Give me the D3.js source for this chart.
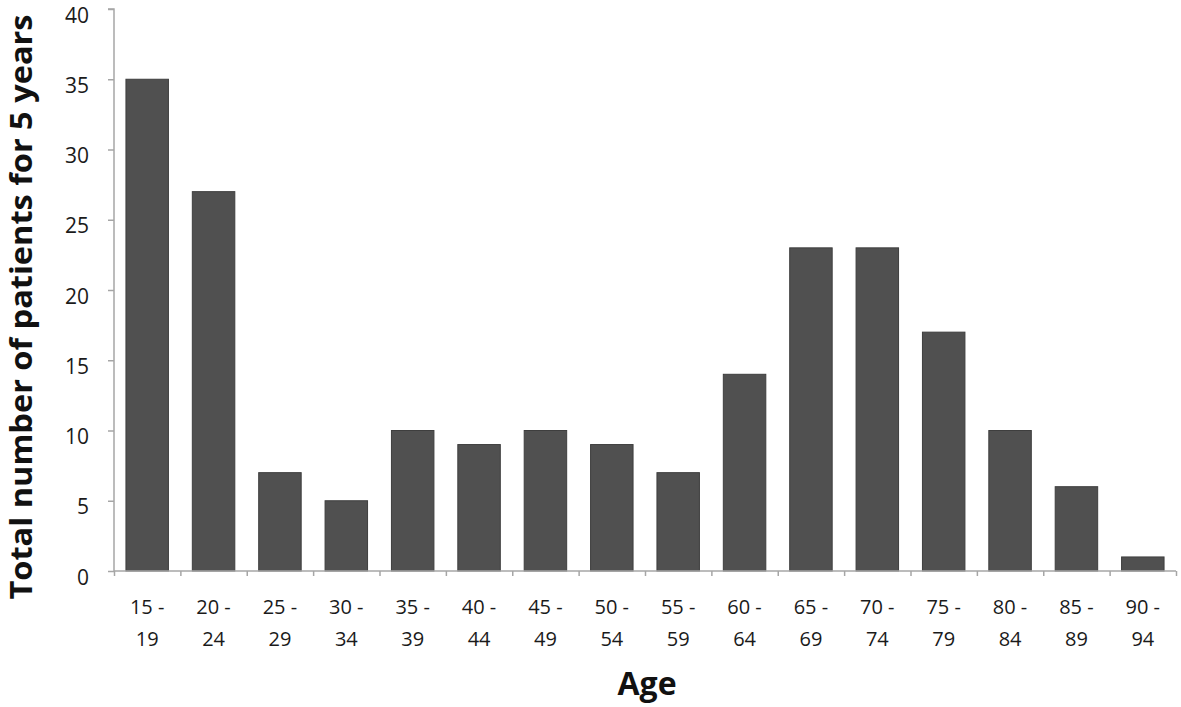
<!DOCTYPE html>
<html>
<head>
<meta charset="utf-8">
<script src="https://cdn.jsdelivr.net/npm/d3@7"></script>
<style>
  body { margin: 0; background: #fff; }
  text { font-family: "Open Sans", "Noto Sans", sans-serif; }
</style>
</head>
<body>
<div class="graph-goes-here"></div>
<script>
// age groups, split on two lines like the original
var ageStart = ["15", "20", "25", "30", "35", "40", "45", "50", "55", "60", "65", "70", "75", "80", "85", "90"];
var ageEnd = ["19", "24", "29", "34", "39", "44", "49", "54", "59", "64", "69", "74", "79", "84", "89", "94"];
var patients = [35, 27, 7, 5, 10, 9, 10, 9, 7, 14, 23, 23, 17, 10, 6, 1];
var yTicks = [0, 5, 10, 15, 20, 25, 30, 35, 40];

var margin = { top: 9, right: 5, bottom: 136, left: 114 },
    width = 1181 - margin.left - margin.right,
    height = 707 - margin.top - margin.bottom;

var svg = d3.select(".graph-goes-here")
    .append("svg")
    .attr("width", 1181)
    .attr("height", 707)
    .append("g")
    .attr("transform", "translate(" + margin.left + "," + margin.top + ")");

var data = ageStart.map((s, i) => ({ key: s + "-" + ageEnd[i], start: s, end: ageEnd[i], value: patients[i] }));

var x = d3.scaleBand().domain(data.map(d => d.key)).range([0, width]).paddingInner(0.36).paddingOuter(0.18);
var xEdges = d3.scaleLinear().domain([0, data.length]).range([0, width]);
var y = d3.scaleLinear().domain([0, 40]).range([height, 0]);

// bars
svg.selectAll(".bar")
    .data(data)
    .enter()
    .append("rect")
    .attr("class", "bar")
    .attr("x", d => x(d.key))
    .attr("width", x.bandwidth())
    .attr("y", d => y(d.value))
    .attr("height", d => height - y(d.value))
    .attr("fill", "#505050")
    .attr("stroke", "#3e3e3e")
    .attr("stroke-width", 1);

// y axis
var yAxis = svg.append("g")
    .call(d3.axisLeft(y).tickValues(yTicks).tickSize(6).tickPadding(19));
yAxis.select(".domain").attr("stroke", "#a6a6a6").attr("stroke-width", 1.5)
    .attr("d", "M-6," + y(40) + "H0V" + height);
yAxis.selectAll(".tick line").attr("stroke", "#a6a6a6").attr("stroke-width", 1.5);
yAxis.selectAll(".tick text").attr("fill", "#1a1a1a").attr("dy", "0.62em").style("font-size", "21px");

// x axis: ticks sit on the category edges
var xAxis = svg.append("g")
    .attr("transform", "translate(0," + height + ")")
    .call(d3.axisBottom(xEdges).tickValues(d3.range(0, data.length + 1)).tickSize(5).tickFormat(""));
xAxis.select(".domain").attr("stroke", "#a6a6a6").attr("stroke-width", 1.5).attr("d", "M0,0H" + width);
xAxis.selectAll(".tick line").attr("stroke", "#a6a6a6").attr("stroke-width", 1.5);

var labels = svg.append("g").attr("transform", "translate(0," + height + ")");
labels.selectAll(".age-label")
    .data(data)
    .enter()
    .append("text")
    .attr("class", "age-label")
    .attr("text-anchor", "middle")
    .style("font-size", "20px")
    .attr("fill", "#1a1a1a")
    .each(function (d) {
        var t = d3.select(this);
        var cx = x(d.key) + x.bandwidth() / 2;
        t.append("tspan").attr("x", cx).attr("y", 43).text(d.start + " -");
        t.append("tspan").attr("x", cx).attr("y", 75).text(d.end);
    });

// axis titles
svg.append("text")
    .attr("x", width / 2 + 2)
    .attr("y", height + 124)
    .attr("text-anchor", "middle")
    .style("font-size", "32px")
    .style("font-weight", "bold")
    .attr("fill", "#111")
    .text("Age");

svg.append("text")
    .attr("transform", "translate(" + (-82) + "," + (height / 2 + 17) + ") rotate(-90)")
    .attr("text-anchor", "middle")
    .attr("textLength", 585)
    .attr("lengthAdjust", "spacingAndGlyphs")
    .style("font-size", "31px")
    .style("font-weight", "bold")
    .attr("fill", "#111")
    .text("Total number of patients for 5 years");
</script>
</body>
</html>
